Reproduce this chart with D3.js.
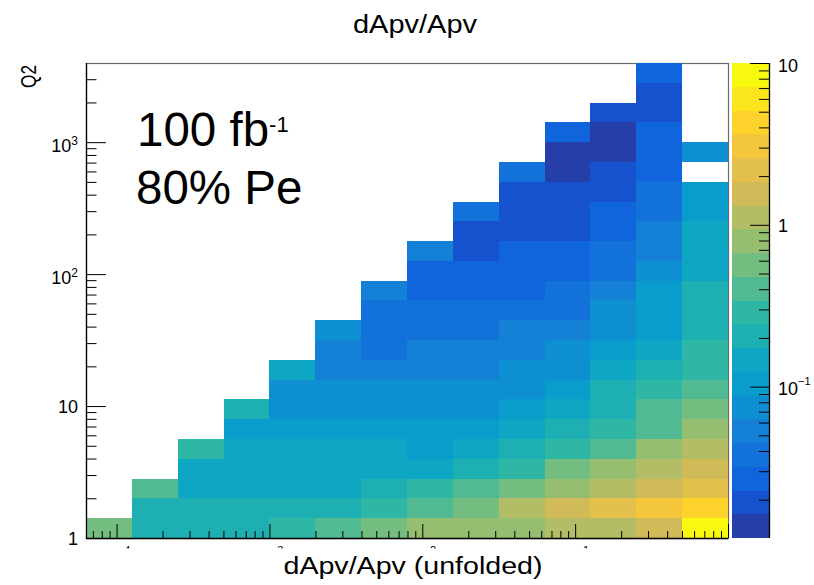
<!DOCTYPE html>
<html>
<head>
<meta charset="utf-8">
<script src="https://cdn.jsdelivr.net/npm/d3@7"></script>
<style>
  body { margin: 0; background: #fff; }
  text { font-family: "Liberation Sans", Arial, Helvetica, sans-serif; fill: #000; }
</style>
</head>
<body>
<svg id="chart" width="814" height="585"></svg>
<script>
// Bin edges of the 2D histogram (log-spaced)
const xEdges = [6.31e-5, 1.259e-4, 2.512e-4, 5.012e-4, 1.0e-3, 1.995e-3, 3.981e-3, 7.943e-3,
                1.585e-2, 3.162e-2, 6.31e-2, 0.1259, 0.2512, 0.5012, 1.0];
const yEdges = [1, 1.413, 1.995, 2.818, 3.981, 5.623, 7.943, 11.22, 15.85, 22.39, 31.62, 44.67,
                63.1, 89.13, 125.9, 177.8, 251.2, 354.8, 501.2, 707.9, 1000, 1413, 1995, 2818, 3981];

// dApv/Apv per cell, one array per x bin, listed from the lowest Q2 bin upward (null = empty)
const col00 = [0.566];
const col01 = [0.205, 0.205, 0.40];
const col02 = [0.205, 0.205, 0.146, 0.146, 0.288];
const col03 = [0.205, 0.205, 0.146, 0.146, 0.146, 0.104, 0.205];
const col04 = [0.288, 0.205, 0.146, 0.146, 0.146, 0.104, 0.0745, 0.0745, 0.146];
const col05 = [0.40, 0.205, 0.146, 0.146, 0.146, 0.104, 0.0745, 0.0745, 0.053, 0.053, 0.0745];
const col06 = [0.566, 0.288, 0.205, 0.146, 0.146, 0.104, 0.0745, 0.0745, 0.053, 0.038, 0.038, 0.038, 0.053];
const col07 = [0.79, 0.40, 0.288, 0.146, 0.104, 0.104, 0.0745, 0.0745, 0.053, 0.053, 0.038, 0.038, 0.027, 0.027, 0.053];
const col08 = [0.79, 0.566, 0.40, 0.205, 0.146, 0.104, 0.0745, 0.0745, 0.053, 0.053, 0.038, 0.038, 0.027, 0.027,
               0.0193, 0.0193, 0.038];
const col09 = [0.79, 1.11, 0.566, 0.288, 0.205, 0.146, 0.104, 0.0745, 0.0745, 0.053, 0.053, 0.038, 0.027, 0.027,
               0.027, 0.0193, 0.0193, 0.0193, 0.038];
const col10 = [1.11, 1.56, 0.79, 0.566, 0.288, 0.205, 0.146, 0.104, 0.0745, 0.0745, 0.053, 0.038, 0.038, 0.027,
               0.027, 0.0193, 0.0193, 0.0193, 0.0138, 0.0138, 0.027];
const col11 = [1.11, 2.19, 1.11, 0.79, 0.40, 0.288, 0.205, 0.205, 0.146, 0.104, 0.0745, 0.0745, 0.053, 0.038,
               0.038, 0.027, 0.027, 0.0193, 0.0193, 0.0138, 0.0138, 0.0193];
const col12 = [1.56, 3.06, 1.56, 1.11, 0.79, 0.40, 0.40, 0.288, 0.205, 0.146, 0.104, 0.104, 0.104, 0.0745,
               0.053, 0.053, 0.038, 0.038, 0.027, 0.027, 0.027, 0.0193, 0.0193, 0.027];
const col13 = [8.45, 4.3, 2.19, 1.56, 1.11, 0.79, 0.566, 0.40, 0.288, 0.288, 0.205, 0.205, 0.205, 0.146,
               0.146, 0.146, 0.104, 0.104, null, 0.0745];
const cellValues = [col00, col01, col02, col03, col04, col05, col06, col07, col08, col09, col10, col11, col12, col13];

// Colour axis range and number of contour levels
const zRange = [0.0116, 10];
const nContours = 20;

// Tick labels
const xMajorExp = [-4, -3, -2, -1];
const yMajorLabels = [{v: 1, base: "1", exp: null}, {v: 10, base: "10", exp: null},
                      {v: 100, base: "10", exp: "2"}, {v: 1000, base: "10", exp: "3"}];
const zMajorLabels = [{v: 10, base: "10", exp: null}, {v: 1, base: "1", exp: null},
                      {v: 0.1, base: "10", exp: "\u22121"}];

// "Bird" palette stops
const birdStops = [0.0000, 0.1250, 0.2500, 0.3750, 0.5000, 0.6250, 0.7500, 0.8750, 1.0000];
const birdRed   = [0.2082, 0.0592, 0.0780, 0.0232, 0.1802, 0.5301, 0.8186, 0.9956, 0.9764];
const birdGreen = [0.1664, 0.3599, 0.5041, 0.6419, 0.7178, 0.7492, 0.7328, 0.7862, 0.9832];
const birdBlue  = [0.5293, 0.8684, 0.8385, 0.7914, 0.6425, 0.4662, 0.3499, 0.1968, 0.0539];

function gradientTable(n) {
  const out = [];
  for (let g = 1; g < birdStops.length; g++) {
    const k = Math.floor(n * birdStops[g]) - Math.floor(n * birdStops[g - 1]);
    for (let c = 0; c < k; c++) {
      const t = c / k;
      out.push(d3.rgb(
        255 * (birdRed[g - 1] + t * (birdRed[g] - birdRed[g - 1])),
        255 * (birdGreen[g - 1] + t * (birdGreen[g] - birdGreen[g - 1])),
        255 * (birdBlue[g - 1] + t * (birdBlue[g] - birdBlue[g - 1]))).formatHex());
    }
  }
  return out;
}
const palette = gradientTable(255);
const bandColor = i => palette[Math.floor((i + 0.99) * palette.length / nContours)];

// Layout
const frame = {left: 86, right: 728, top: 63, bottom: 538};
const pal = {left: 732, right: 769};

const svg = d3.select("#chart");
const x = d3.scaleLog().domain([xEdges[0], xEdges[xEdges.length - 1]]).range([frame.left, frame.right]);
const y = d3.scaleLog().domain([yEdges[0], yEdges[yEdges.length - 1]]).range([frame.bottom, frame.top]);
const zBand = d3.scaleLog().domain(zRange).range([0, nContours]);
const zPix = d3.scaleLog().domain(zRange).range([frame.bottom, frame.top]);

// Frame
svg.append("rect")
  .attr("x", frame.left + 0.5).attr("y", frame.top + 0.5)
  .attr("width", frame.right - frame.left).attr("height", frame.bottom - frame.top)
  .attr("fill", "none").attr("stroke", "#6a6a6a").attr("stroke-width", 1.2);

// Cells
const cells = [];
cellValues.forEach((col, i) => col.forEach((v, j) => { if (v != null) cells.push({i, j, v}); }));
svg.append("g").attr("shape-rendering", "crispEdges")
  .selectAll("rect").data(cells).join("rect")
  .attr("x", d => x(xEdges[d.i]))
  .attr("width", d => x(xEdges[d.i + 1]) - x(xEdges[d.i]))
  .attr("y", d => y(yEdges[d.j + 1]))
  .attr("height", d => y(yEdges[d.j]) - y(yEdges[d.j + 1]))
  .attr("fill", d => bandColor(Math.max(0, Math.min(nContours - 1, Math.floor(zBand(d.v))))));

// Minor tick positions (2..9 per decade) inside a domain
function minorTicks(domain) {
  const out = [];
  const lo = Math.floor(Math.log10(domain[0])), hi = Math.ceil(Math.log10(domain[1]));
  for (let e = lo; e < hi; e++)
    for (let m = 2; m <= 9; m++) {
      const v = m * Math.pow(10, e);
      if (v > domain[0] * 1.0001 && v < domain[1] * 0.9999) out.push(v);
    }
  return out;
}

function styleAxis(g) {
  g.select(".domain").remove();
  g.selectAll(".tick line").attr("stroke", "#000").attr("stroke-width", 1);
  g.selectAll(".tick text").remove();
}

// X axis (ticks pointing up into the plot)
const xMajor = xMajorExp.map(e => Math.pow(10, e)).concat([1]);
svg.append("g").attr("transform", `translate(0,${frame.bottom})`)
  .call(d3.axisBottom(x).tickValues(minorTicks(x.domain())).tickSize(-7).tickSizeOuter(0)).call(styleAxis);
svg.append("g").attr("transform", `translate(0,${frame.bottom})`)
  .call(d3.axisBottom(x).tickValues(xMajor).tickSize(-14).tickSizeOuter(0)).call(styleAxis);
svg.append("line").attr("x1", frame.left).attr("x2", frame.right)
  .attr("y1", frame.bottom + 0.5).attr("y2", frame.bottom + 0.5)
  .attr("stroke", "#000").attr("stroke-width", 1.3);

// X tick label exponents: only their top edge shows above the axis title
svg.append("clipPath").attr("id", "xlabClip")
  .append("rect").attr("x", 0).attr("y", 540).attr("width", 814).attr("height", 8.6);
const xLab = svg.append("g").attr("clip-path", "url(#xlabClip)");
xMajorExp.forEach(e => {
  xLab.append("text").attr("x", x(Math.pow(10, e)) + 9).attr("y", 553.8)
    .attr("text-anchor", "middle").attr("font-size", 11).text("-" + Math.abs(e));
});

// Y axis (ticks pointing right into the plot)
const yMajor = yMajorLabels.map(d => d.v);
svg.append("g").attr("transform", `translate(${frame.left},0)`)
  .call(d3.axisLeft(y).tickValues(minorTicks(y.domain())).tickSize(-10.5).tickSizeOuter(0)).call(styleAxis);
svg.append("g").attr("transform", `translate(${frame.left},0)`)
  .call(d3.axisLeft(y).tickValues(yMajor).tickSize(-20).tickSizeOuter(0)).call(styleAxis);
svg.append("line").attr("x1", frame.left + 0.5).attr("x2", frame.left + 0.5)
  .attr("y1", frame.top).attr("y2", frame.bottom + 1)
  .attr("stroke", "#000").attr("stroke-width", 1.3);

yMajorLabels.forEach(d => {
  const yy = y(d.v);
  const t = svg.append("text").attr("x", 78).attr("text-anchor", "end").attr("font-size", 18);
  if (d.exp == null) {
    t.attr("y", yy + 6.8).text(d.base);
  } else {
    t.attr("y", yy + 10.2);
    t.append("tspan").text(d.base);
    t.append("tspan").attr("dy", -7.2).attr("font-size", 12).text(d.exp);
  }
});

// Colour palette
const bandEdges = d3.range(nContours + 1).map(i => zRange[0] * Math.pow(zRange[1] / zRange[0], i / nContours));
svg.append("g").attr("shape-rendering", "crispEdges")
  .selectAll("rect").data(d3.range(nContours)).join("rect")
  .attr("x", pal.left).attr("width", pal.right - pal.left)
  .attr("y", i => zPix(bandEdges[i + 1]))
  .attr("height", i => zPix(bandEdges[i]) - zPix(bandEdges[i + 1]))
  .attr("fill", i => bandColor(i));

svg.append("g").attr("transform", `translate(${pal.right},0)`)
  .call(d3.axisRight(zPix).tickValues(minorTicks(zRange)).tickSize(-10).tickSizeOuter(0)).call(styleAxis);
svg.append("g").attr("transform", `translate(${pal.right},0)`)
  .call(d3.axisRight(zPix).tickValues(zMajorLabels.map(d => d.v)).tickSize(-19).tickSizeOuter(0)).call(styleAxis);
svg.append("line").attr("x1", pal.right + 0.5).attr("x2", pal.right + 0.5)
  .attr("y1", frame.top).attr("y2", frame.bottom)
  .attr("stroke", "#000").attr("stroke-width", 1.3);

zMajorLabels.forEach((d, k) => {
  const yy = zPix(d.v);
  const t = svg.append("text").attr("x", 778).attr("font-size", 18);
  if (d.exp == null) {
    t.attr("y", yy + (k === 0 ? 8.5 : 7)).text(d.base);
  } else {
    t.attr("y", yy + 8.3);
    t.append("tspan").text(d.base);
    t.append("tspan").attr("dy", -10).attr("font-size", 11).text(d.exp);
  }
});

// Titles
svg.append("text").attr("x", 415).attr("y", 33).attr("text-anchor", "middle")
  .attr("font-size", 26).attr("textLength", 124).attr("lengthAdjust", "spacingAndGlyphs")
  .text("dApv/Apv");
svg.append("text").attr("x", 413).attr("y", 574).attr("text-anchor", "middle")
  .attr("font-size", 23.5).attr("textLength", 259).attr("lengthAdjust", "spacingAndGlyphs")
  .text("dApv/Apv (unfolded)");
svg.append("text").attr("transform", "translate(36,65) rotate(-90)").attr("text-anchor", "end")
  .attr("font-size", 22).attr("textLength", 23).attr("lengthAdjust", "spacingAndGlyphs")
  .text("Q2");

// Run conditions
const lumi = svg.append("text").attr("x", 137).attr("y", 146).attr("font-size", 47.5);
lumi.append("tspan").text("100 fb");
lumi.append("tspan").attr("dy", -14.5).attr("font-size", 22).text("-1");
svg.append("text").attr("x", 136).attr("y", 204).attr("font-size", 47.5).text("80% Pe");
</script>
</body>
</html>
